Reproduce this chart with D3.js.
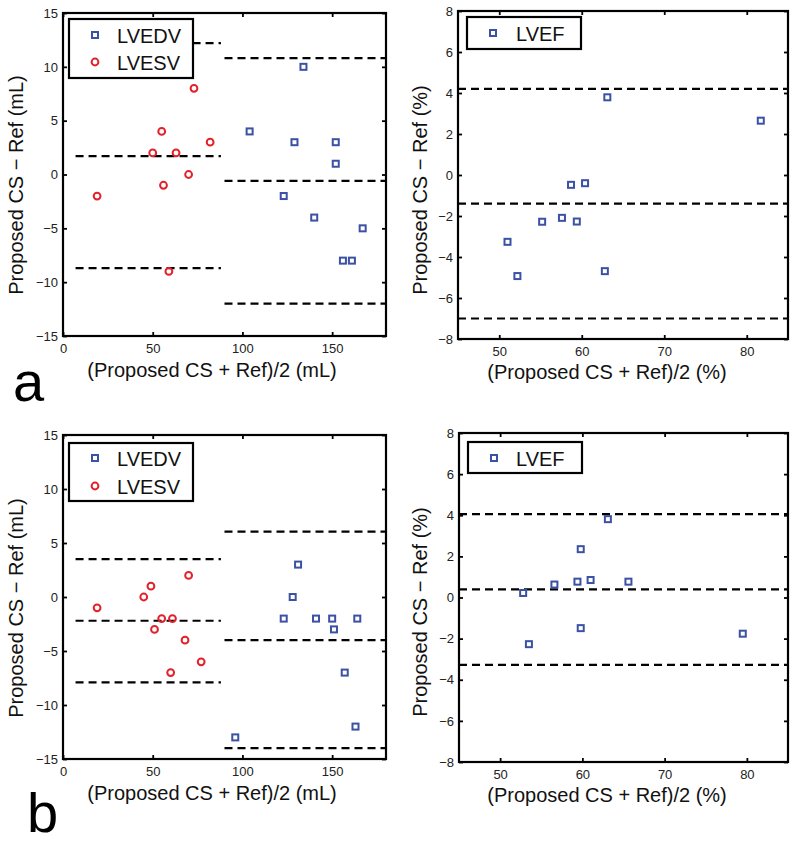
<!DOCTYPE html>
<html><head><meta charset="utf-8">
<script src="https://cdn.jsdelivr.net/npm/d3@7"></script>
<style>
html,body{margin:0;padding:0;background:#fff;}
svg{display:block;font-family:"Liberation Sans",Arial,sans-serif;}
</style></head>
<body>
<svg id="chart" width="800" height="843"></svg>
<script>
// ---- tick labels ----
const volXTicks = [0, 50, 100, 150];
const volYTicks = [-15, -10, -5, 0, 5, 10, 15];
const efXTicks = [50, 60, 70, 80];
const efYTicks = [-8, -6, -4, -2, 0, 2, 4, 6, 8];

// ---- panel a: volumes ----
const aEdvMean = [104, 123, 129, 134, 140, 152, 152, 156, 161, 167];
const aEdvDiff = [4, -2, 3, 10, -4, 3, 1, -8, -8, -5];
const aEsvMean = [19, 50, 55, 56, 63, 70, 73, 82, 59];
const aEsvDiff = [-2, 2, 4, -1, 2, 0, 8, 3, -9];
const aEsvLimits = [12.2, 1.7, -8.7];
const aEdvLimits = [10.8, -0.6, -12.0];
// ---- panel a: ejection fraction ----
const aEfMean = [51.0, 52.2, 55.2, 57.6, 58.7, 59.4, 60.4, 62.8, 63.1, 81.7];
const aEfDiff = [-3.26, -4.93, -2.28, -2.09, -0.48, -2.27, -0.40, -4.69, 3.79, 2.65];
const aEfLimits = [4.2, -1.4, -7.0];

// ---- panel b: volumes ----
const bEsvMean = [19, 45, 49, 51, 55, 61, 60, 68, 70, 77];
const bEsvDiff = [-1, 0, 1, -3, -2, -2, -7, -4, 2, -6];
const bEdvMean = [96, 123, 128, 131, 141, 150, 151, 157, 164, 163];
const bEdvDiff = [-13, -2, 0, 3, -2, -2, -3, -7, -2, -12];
const bEsvLimits = [3.5, -2.2, -7.9];
const bEdvLimits = [6.05, -4.0, -14.0];
// ---- panel b: ejection fraction ----
const bEfMean = [52.8, 53.5, 56.6, 59.4, 59.8, 59.8, 61.0, 63.1, 65.6, 79.5];
const bEfDiff = [0.22, -2.27, 0.63, 0.77, 2.35, -1.49, 0.85, 3.81, 0.77, -1.76];
const bEfLimits = [4.05, 0.4, -3.28];

// x-extent of the limit lines
const esvSpan = [7, 88];
const edvSpan = [90, 180];
const efSpan = [45, 85];

const volXDomain = [0, 180], volYDomain = [-15, 15];
const efXDomain = [45, 85], efYDomain = [-8, 8];

const BLUE = "#3b51a3", RED = "#e3212b";

const svg = d3.select("#chart");

function zip(xs, ys) { return xs.map((x, i) => ({ x, y: ys[i] })); }

function panel(cfg) {
  const g = svg.append("g");
  const x = d3.scaleLinear().domain(cfg.xDomain).range([cfg.box.x0, cfg.box.x1]);
  const y = d3.scaleLinear().domain(cfg.yDomain).range([cfg.box.y1, cfg.box.y0]);
  const tl = 4;
  // axes with inward ticks
  const axB = g.append("g").attr("transform", `translate(0,${cfg.box.y1})`)
    .call(d3.axisBottom(x).tickValues(cfg.xTicks).tickSize(-tl).tickPadding(9).tickFormat(d3.format("d")));
  const axT = g.append("g").attr("transform", `translate(0,${cfg.box.y0})`)
    .call(d3.axisTop(x).tickValues(cfg.xTicks).tickSize(-tl).tickFormat(""));
  const axL = g.append("g").attr("transform", `translate(${cfg.box.x0},0)`)
    .call(d3.axisLeft(y).tickValues(cfg.yTicks).tickSize(-tl).tickPadding(9).tickFormat(d3.format("d")));
  const axR = g.append("g").attr("transform", `translate(${cfg.box.x1},0)`)
    .call(d3.axisRight(y).tickValues(cfg.yTicks).tickSize(-tl).tickFormat(""));
  [axB, axT, axL, axR].forEach(a => {
    a.select(".domain").remove();
    a.selectAll(".tick line").attr("stroke", "#000").attr("stroke-width", 1.8);
    a.selectAll(".tick text").attr("fill", "#222").style("font-size", "13px")
      .style("font-family", "'Liberation Sans', Arial, sans-serif");
  });
  axB.selectAll(".tick text").attr("y", 17).attr("dy", "0");
  axL.selectAll(".tick text").attr("dx", "4px");

  // limit lines
  cfg.limits.forEach(L => {
    L.values.forEach(v => {
      g.append("line")
        .attr("x1", x(L.span[0])).attr("x2", x(L.span[1]))
        .attr("y1", y(v)).attr("y2", y(v))
        .attr("stroke", "#000").attr("stroke-width", 2.2)
        .attr("stroke-dasharray", "8,5");
    });
  });

  // markers
  cfg.series.forEach(s => {
    const pts = zip(s.xs, s.ys);
    if (s.shape === "square") {
      g.selectAll(null).data(pts).enter().append("rect")
        .attr("x", d => x(d.x) - 3).attr("y", d => y(d.y) - 3)
        .attr("width", 6).attr("height", 6)
        .attr("fill", "none").attr("stroke", s.color).attr("stroke-width", 2);
    } else {
      g.selectAll(null).data(pts).enter().append("circle")
        .attr("cx", d => x(d.x)).attr("cy", d => y(d.y)).attr("r", 3.4)
        .attr("fill", "none").attr("stroke", s.color).attr("stroke-width", 2);
    }
  });

  // frame
  g.append("rect").attr("x", cfg.box.x0).attr("y", cfg.box.y0)
    .attr("width", cfg.box.x1 - cfg.box.x0).attr("height", cfg.box.y1 - cfg.box.y0)
    .attr("fill", "none").attr("stroke", "#000").attr("stroke-width", 2.2);

  // legend
  const lg = cfg.legend;
  g.append("rect").attr("x", lg.x0).attr("y", lg.y0)
    .attr("width", lg.x1 - lg.x0).attr("height", lg.y1 - lg.y0)
    .attr("fill", "#fff").attr("stroke", "#000").attr("stroke-width", 2.2);
  cfg.series.forEach((s, i) => {
    const cy = lg.rows[i];
    if (s.shape === "square") {
      g.append("rect").attr("x", lg.mx - 3).attr("y", cy - 3).attr("width", 6).attr("height", 6)
        .attr("fill", "none").attr("stroke", s.color).attr("stroke-width", 2);
    } else {
      g.append("circle").attr("cx", lg.mx).attr("cy", cy).attr("r", 3.4)
        .attr("fill", "none").attr("stroke", s.color).attr("stroke-width", 2);
    }
    g.append("text").attr("x", lg.tx).attr("y", cy + 7.5).text(s.name)
      .attr("fill", "#111").style("font-size", "20px");
  });

  // axis titles
  g.append("text").attr("x", cfg.xLabel.x).attr("y", cfg.xLabel.y)
    .attr("text-anchor", "middle").style("font-size", "20px").attr("fill", "#111")
    .text(cfg.xLabel.text);
  g.append("text").attr("transform", `translate(${cfg.yLabel.x},${cfg.yLabel.y}) rotate(-90)`)
    .attr("text-anchor", "middle").style("font-size", "20px").attr("fill", "#111")
    .text(cfg.yLabel.text);
}

const volXTitle = "(Proposed CS + Ref)/2 (mL)";
const volYTitle = "Proposed CS \u2212 Ref (mL)";
const efXTitle = "(Proposed CS + Ref)/2 (%)";
const efYTitle = "Proposed CS \u2212 Ref (%)";

// Panel a - volumes
panel({
  box: { x0: 63, x1: 386, y0: 13, y1: 336 },
  xDomain: volXDomain, yDomain: volYDomain, xTicks: volXTicks, yTicks: volYTicks,
  limits: [{ values: aEsvLimits, span: esvSpan }, { values: aEdvLimits, span: edvSpan }],
  series: [
    { name: "LVEDV", shape: "square", color: BLUE, xs: aEdvMean, ys: aEdvDiff },
    { name: "LVESV", shape: "circle", color: RED, xs: aEsvMean, ys: aEsvDiff }
  ],
  legend: { x0: 69, x1: 193, y0: 19, y1: 78, mx: 95, tx: 117, rows: [35, 62] },
  xLabel: { x: 212, y: 377, text: volXTitle },
  yLabel: { x: 23, y: 185, text: volYTitle }
});
// Panel a - EF
panel({
  box: { x0: 458, x1: 788, y0: 11, y1: 339 },
  xDomain: efXDomain, yDomain: efYDomain, xTicks: efXTicks, yTicks: efYTicks,
  limits: [{ values: aEfLimits, span: efSpan }],
  series: [{ name: "LVEF", shape: "square", color: BLUE, xs: aEfMean, ys: aEfDiff }],
  legend: { x0: 467, x1: 581, y0: 17, y1: 49, mx: 493, tx: 516, rows: [33] },
  xLabel: { x: 607, y: 379, text: efXTitle },
  yLabel: { x: 427, y: 190, text: efYTitle }
});
// Panel b - volumes
panel({
  box: { x0: 63, x1: 386, y0: 435, y1: 759 },
  xDomain: volXDomain, yDomain: volYDomain, xTicks: volXTicks, yTicks: volYTicks,
  limits: [{ values: bEsvLimits, span: esvSpan }, { values: bEdvLimits, span: edvSpan }],
  series: [
    { name: "LVEDV", shape: "square", color: BLUE, xs: bEdvMean, ys: bEdvDiff },
    { name: "LVESV", shape: "circle", color: RED, xs: bEsvMean, ys: bEsvDiff }
  ],
  legend: { x0: 69, x1: 193, y0: 443, y1: 501, mx: 95, tx: 117, rows: [458, 486] },
  xLabel: { x: 212, y: 800, text: volXTitle },
  yLabel: { x: 23, y: 608, text: volYTitle }
});
// Panel b - EF
panel({
  box: { x0: 459, x1: 788, y0: 433, y1: 762 },
  xDomain: efXDomain, yDomain: efYDomain, xTicks: efXTicks, yTicks: efYTicks,
  limits: [{ values: bEfLimits, span: efSpan }],
  series: [{ name: "LVEF", shape: "square", color: BLUE, xs: bEfMean, ys: bEfDiff }],
  legend: { x0: 468, x1: 582, y0: 442, y1: 473, mx: 494, tx: 516, rows: [458] },
  xLabel: { x: 607, y: 802, text: efXTitle },
  yLabel: { x: 427, y: 612, text: efYTitle }
});

// panel letters
svg.append("text").attr("x", 13).attr("y", 401).text("a")
  .style("font-size", "56px").attr("fill", "#000");
svg.append("text").attr("x", 27).attr("y", 832).text("b")
  .style("font-size", "56px").attr("fill", "#000");
</script>
</body></html>
